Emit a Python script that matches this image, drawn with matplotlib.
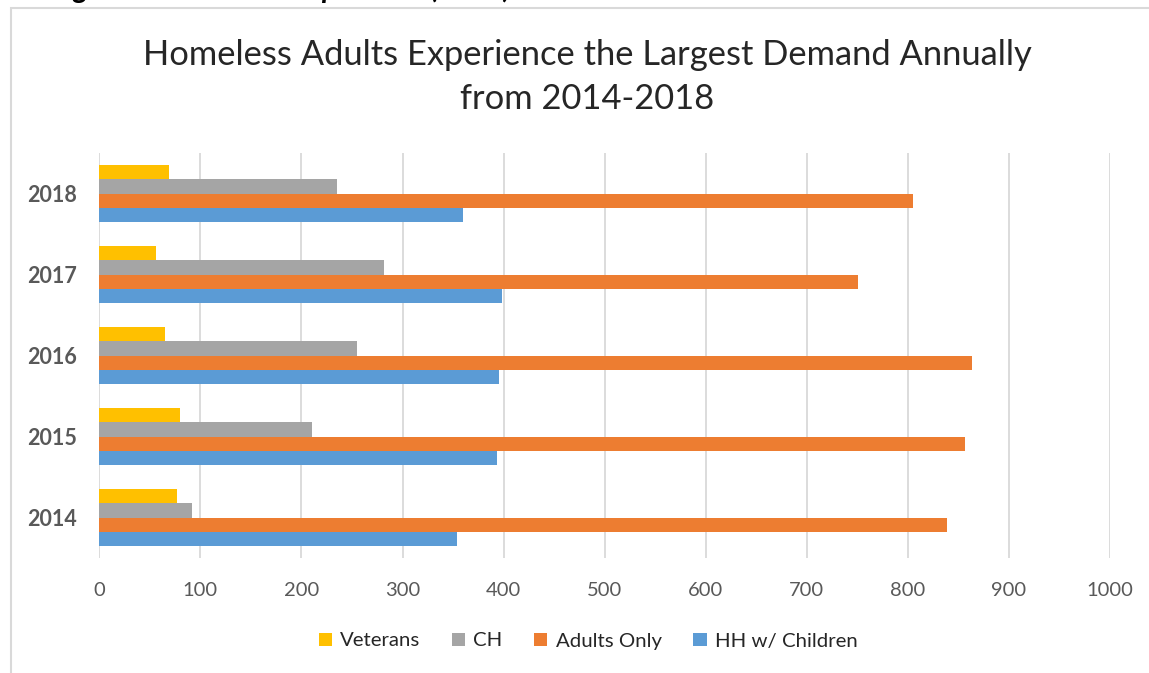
import numpy as np
import matplotlib
matplotlib.use("Agg")
import matplotlib.pyplot as plt
from matplotlib.patches import Rectangle

# data
years = ["2014", "2015", "2016", "2017", "2018"]
veterans = [77, 80, 65, 56, 69]
ch = [92, 210, 255, 282, 235]
adults_only = [839, 857, 863, 751, 805]
hh_children = [354, 393, 395, 398, 360]

series_names = ["Veterans", "CH", "Adults Only", "HH w/ Children"]
series_colors = ["#ffc000", "#a5a5a5", "#ed7d31", "#5b9bd5"]
xticks = [0, 100, 200, 300, 400, 500, 600, 700, 800, 900, 1000]

plt.rcParams['font.family'] = ['Lato', 'DejaVu Sans']

W, H = 1149, 673
fig = plt.figure(figsize=(W / 100, H / 100), dpi=100)
ax = fig.add_axes([99.3 / W, 1 - 558 / H, (1110 - 99.3) / W, (558 - 153) / H])

y = np.arange(len(years))
h = 0.173
offsets = [1.5 * h, 0.5 * h, -0.5 * h, -1.5 * h]
all_vals = [veterans, ch, adults_only, hh_children]
for vals, off, col, name in zip(all_vals, offsets, series_colors, series_names):
    ax.barh(y + off, vals, height=h, color=col, label=name, zorder=3)

ax.set_xlim(0, 1000)
ax.set_ylim(-0.5, len(years) - 0.5)
ax.set_xticks(xticks)
ax.set_yticks(y)
ax.set_yticklabels(years, fontweight='bold')
ax.tick_params(axis='x', length=0, pad=17, labelsize=14.5, labelcolor='#595959')
ax.tick_params(axis='y', length=0, pad=16, labelsize=15.5, labelcolor='#595959')
ax.grid(axis='x', color='#d9d9d9', linewidth=1.3, zorder=0)
for s in ax.spines.values():
    s.set_visible(False)

fig.text(587 / W, 1 - 55 / H, "Homeless Adults Experience the Largest Demand Annually",
         ha='center', va='center', fontsize=24.8, color='#262626')
fig.text(587 / W, 1 - 99 / H, "from 2014-2018",
         ha='center', va='center', fontsize=24.8, color='#262626')

# caption above the chart frame, cut off by the top edge as in the source
fig.text(511 / W, 1 + 2 / H, "Figure 2: Homeless Population (chart)", ha='right', va='baseline',
         fontsize=21, fontweight='bold', fontstyle='italic', color='black')

# chart frame
fig.add_artist(Rectangle((10.5 / W, -0.1), 1.2, 1 - 8.5 / H + 0.1, transform=fig.transFigure,
                         fill=False, edgecolor='#d9d9d9', linewidth=1.5))

fig.legend(loc='center', bbox_to_anchor=(588 / W, 1 - 641 / H), ncol=4, frameon=False,
           fontsize=14.7, handlelength=0.65, handleheight=0.65, handletextpad=0.4,
           columnspacing=1.55, labelcolor='#262626')

fig.savefig("out.png", dpi=100)
